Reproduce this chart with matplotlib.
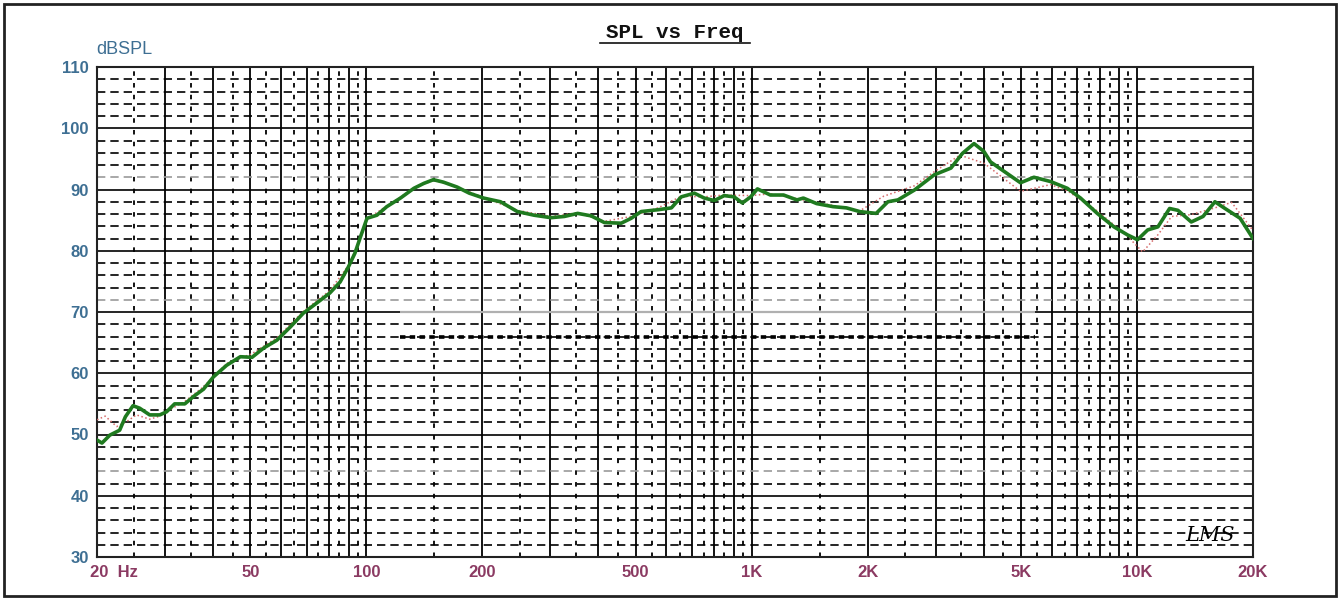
import matplotlib
matplotlib.use("Agg")
from matplotlib import pyplot as plt
from matplotlib.lines import Line2D
from matplotlib.patches import Rectangle
import numpy as np

# green curve (main measurement)
freq_g = [20, 20.6, 21.6, 22.9, 23.7, 24.8, 25.8, 27.4, 29.1, 30.3, 31.8, 33.8, 35.6, 37.8,
          40.1, 43.4, 47.1, 50.5, 54.1, 58.6, 63.6, 68.6, 74.1, 80.4, 85.5, 89.9, 93.4, 96.6,
          100.4, 106.5, 113, 122.6, 132.9, 141, 149.3, 158.5, 172, 185, 201.6, 222.9, 246.5,
          272.6, 301.4, 326.6, 353.6, 383, 414.8, 458.6, 486.8, 516.6, 571.6, 619, 656.5,
          710, 753.5, 800, 849, 900, 946, 994, 1035, 1118, 1210, 1310, 1362, 1474, 1626,
          1762, 1906, 2104, 2257, 2396, 2643, 2978, 3290, 3524, 3776, 4007, 4168, 4606,
          4985, 5400, 5966, 6592, 7137, 7886, 8713, 9442, 10030, 10660, 11330, 12150,
          12770, 13830, 14840, 15930, 16920, 18520, 20000]
spl_g = [49.1, 48.6, 49.9, 50.7, 52.9, 54.7, 54.3, 53.2, 53.2, 53.7, 55.0, 55.0, 56.2, 57.4,
         59.4, 61.3, 62.7, 62.6, 64.1, 65.4, 67.6, 69.8, 71.4, 73.1, 74.9, 77.4, 79.6, 82.3,
         85.3, 85.8, 87.2, 88.6, 90.2, 91.0, 91.6, 91.2, 90.4, 89.4, 88.6, 88.0, 86.4,
         85.8, 85.4, 85.6, 86.1, 85.7, 84.6, 84.5, 85.3, 86.4, 86.7, 87.0, 88.8,
         89.4, 88.6, 88.2, 89.0, 88.8, 87.8, 88.8, 90.1, 89.1, 89.1, 88.3, 88.6, 87.7, 87.2,
         87.0, 86.4, 86.1, 88.0, 88.3, 89.9, 92.4, 93.5, 95.9, 97.5, 96.2, 94.5, 92.6,
         91.1, 92.0, 91.3, 90.2, 88.6, 86.1, 83.9, 82.6, 81.8, 83.4, 83.9, 86.9,
         86.6, 84.7, 85.6, 88.0, 86.9, 85.3, 82.0]

# red dotted curve (reference)
freq_r = [20, 21, 22.5, 24, 25.3, 27.4, 29.1, 30.8, 33.8, 37.8, 43.4, 50.5, 58.6, 68.6,
          80.4, 89.9, 96.6, 100.4, 113, 132.9, 149.3, 172, 201.6, 246.5, 301.4, 353.6,
          414.8, 486.8, 571.6, 656.5, 753.5, 849, 994, 1118, 1310, 1626, 1906, 2200,
          2643, 2978, 3470, 4007, 4985, 5966, 6592, 7886, 9442, 10340, 11330, 12300,
          13830, 15930, 17600, 20000]
spl_r = [52.4, 53.0, 51.3, 52.2, 53.2, 52.5, 53.0, 54.0, 55.4, 57.8, 61.6, 63.2, 65.8, 70.1,
         73.5, 77.6, 82.0, 85.2, 87.3, 90.2, 91.5, 90.4, 88.7, 86.6, 85.6, 86.2,
         84.8, 85.6, 87.0, 88.9, 88.8, 89.1, 89.0, 89.3, 88.5, 87.4, 86.5, 88.9,
         90.6, 92.9, 95.6, 94.3, 89.7, 90.8, 89.8, 86.5, 82.4, 79.8, 82.6, 85.6,
         85.9, 87.0, 87.9, 83.3]

xtick_vals = [20, 50, 100, 200, 500, 1000, 2000, 5000, 10000, 20000]
xtick_labels = ["", "50", "100", "200", "500", "1K", "2K", "5K", "10K", "20K"]
ytick_vals = [30, 40, 50, 60, 70, 80, 90, 100, 110]

fig = plt.figure(figsize=(13.4, 5.98), dpi=100)
ax = fig.add_axes([97 / 1340, 41 / 598, 1156 / 1340, 490 / 598])
ax.set_xscale("log")
ax.set_xlim(20, 20000)
ax.set_ylim(30, 110)

# grid: solid at 1..9 x decade, dotted at the half steps
for dec in [10, 100, 1000]:
    for m in range(2, 11):
        f = m * dec
        if 20 < f < 20000:
            ax.axvline(f, color="black", lw=1.3, zorder=1)
        h = (m - 0.5) * dec
        if 20 < h < 20000:
            ax.axvline(h, color="black", lw=1.3, ls=(0, (2.5, 4)), zorder=1)

for y in np.arange(30, 111, 2):
    if y % 10 == 0:
        if 30 < y < 110:
            ax.axhline(y, color="black", lw=1.2, zorder=1)
    elif y in (44, 72, 92):
        ax.axhline(y, color="#9a9a9a", lw=1.2, ls=(0, (5, 3)), zorder=1)
    else:
        ax.axhline(y, color="black", lw=1.2, ls=(0, (5, 3)), zorder=1)

# scan artefacts in the middle of the plot: pale 70 dB line, heavy 66 dB dashes
ax.hlines(70, 122, 5440, color="#b0b0b0", lw=1.6, zorder=1.5)
ax.hlines(66, 122, 5440, color="black", lw=2.6, ls=(0, (1.5, 1.2)), zorder=1.5)

ax.plot(freq_r, spl_r, color="#d46a6a", lw=1.1, ls=":", zorder=3)
ax.plot(freq_g, spl_g, color="#1f7a1f", lw=2.6, zorder=4)

for s in ax.spines.values():
    s.set_linewidth(1.5)
    s.set_color("#222222")

ax.set_xticks(xtick_vals)
ax.set_xticklabels(xtick_labels)
ax.xaxis.set_minor_locator(matplotlib.ticker.NullLocator())
ax.set_yticks(ytick_vals)
ax.tick_params(length=0, pad=6)
for t in ax.get_xticklabels():
    t.set_color("#8b3a62")
    t.set_fontweight("bold")
    t.set_fontsize(12)
    t.set_fontfamily("Liberation Sans")
for t in ax.get_yticklabels():
    t.set_color("#3e6f93")
    t.set_fontweight("bold")
    t.set_fontsize(12)
    t.set_fontfamily("Liberation Sans")

# first x label sits a little left of the axis start
ax.annotate("20  Hz", xy=(20, 30), xytext=(-5, -11), textcoords="offset points",
            ha="left", va="center", color="#8b3a62", fontsize=12,
            fontweight="bold", family="Liberation Sans", annotation_clip=False)

fig.text(96 / 1340, 1 - 50 / 598, "dBSPL", color="#3e6f93",
         fontsize=13, family="Liberation Sans", va="center", ha="left")

fig.text(675 / 1340, 1 - 33 / 598, "SPL vs Freq", fontsize=15, fontweight="bold",
         family="Liberation Mono", ha="center", va="center", color="#111111")
fig.add_artist(Line2D([600 / 1340, 750 / 1340], [1 - 43 / 598, 1 - 43 / 598],
                      color="#111111", lw=1.2))

ax.text(15500, 33.5, "LMS", fontsize=15, style="italic", family="DejaVu Serif",
        ha="center", va="center", color="black", zorder=5)

fig.add_artist(Rectangle((4 / 1340, 2 / 598), 1332 / 1340, 592 / 598,
                         transform=fig.transFigure, fill=False, lw=2, ec="#222222"))

fig.savefig("out.png", dpi=100)
